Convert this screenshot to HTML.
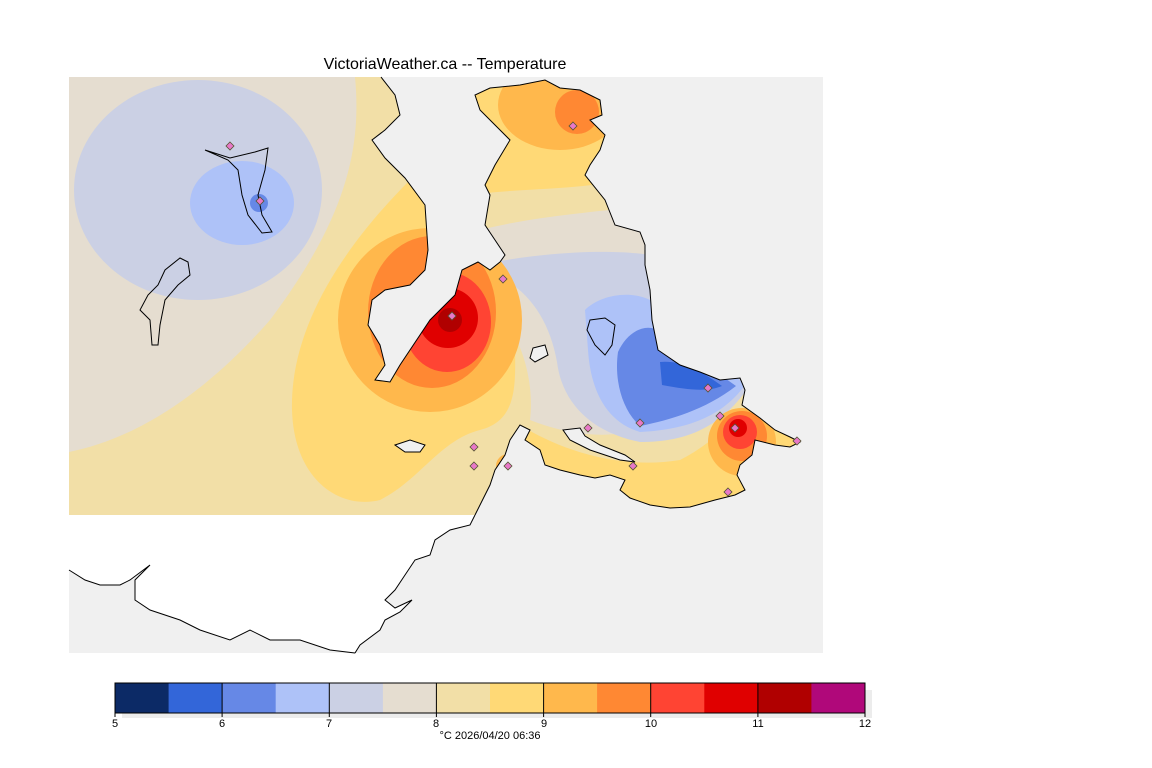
<!DOCTYPE html>
<html><head><meta charset="utf-8"><style>
html,body{margin:0;padding:0;background:#fff;width:1152px;height:768px;overflow:hidden}
svg{display:block}
text{font-family:"Liberation Sans",sans-serif;fill:#000}
</style></head><body>
<svg width="1152" height="768" viewBox="0 0 1152 768" xmlns="http://www.w3.org/2000/svg">
<defs>
<clipPath id="land"><path d="M69,77 L381,77 L395,95 L400,115 L385,130 L372,140 L385,158 L405,178 L425,205 L428,250 L425,270 L410,285 L385,290 L372,300 L368,325 L380,345 L385,365 L375,380 L390,382 L400,365 L430,320 L455,295 L462,270 L478,262 L490,270 L500,262 L505,255 L495,240 L485,225 L490,195 L485,185 L495,165 L510,140 L495,125 L480,110 L475,95 L490,88 L520,85 L545,80 L560,88 L580,90 L600,100 L602,115 L590,120 L605,135 L600,150 L590,165 L585,175 L605,200 L615,225 L640,232 L645,245 L645,265 L650,290 L652,320 L658,350 L680,365 L700,372 L720,380 L740,378 L745,390 L742,405 L760,418 L775,430 L790,437 L800,442 L790,447 L775,445 L755,440 L752,455 L740,465 L737,475 L745,490 L735,495 L715,500 L690,507 L670,508 L650,505 L630,498 L620,490 L625,480 L610,475 L595,478 L580,475 L560,470 L545,465 L540,450 L525,440 L530,430 L520,425 L510,440 L505,455 L495,470 L490,485 L475,515 L69,515 Z"/></clipPath>
</defs>
<text x="445" y="69" font-size="16" text-anchor="middle">VictoriaWeather.ca -- Temperature</text>
<rect x="69" y="77" width="754" height="576" fill="#f0f0f0"/>
<path d="M69,515 L475,515 L470,525 L450,530 L435,540 L430,555 L415,560 L405,575 L395,590 L385,600 L395,608 L412,600 L400,612 L385,620 L380,630 L360,645 L355,653 L69,653 Z" fill="#fff"/>
<path d="M69,653 L69,570 L85,580 L100,585 L120,585 L130,580 L150,565 L135,580 L135,600 L150,610 L180,620 L200,630 L230,640 L250,630 L270,640 L300,640 L330,650 L355,653 Z" fill="#f0f0f0"/>
<path d="M475,515 L470,525 L450,530 L435,540 L430,555 L415,560 L405,575 L395,590 L385,600 L395,608 L412,600 L400,612 L385,620 L380,630 L360,645 L355,653 M69,570 L85,580 L100,585 L120,585 L130,580 L150,565 L135,580 L135,600 L150,610 L180,620 L200,630 L230,640 L250,630 L270,640 L300,640 L330,650 L355,653" fill="none" stroke="#000"/>
<g clip-path="url(#land)">
<rect x="69" y="77" width="754" height="440" fill="#f2dfa7"/>
<path d="M69,77 L355,77 C362,150 345,220 270,320 C200,400 130,440 69,452 Z" fill="#e5ddd0"/>
<ellipse cx="198" cy="190" rx="124" ry="110" fill="#cbd0e4"/>
<ellipse cx="242" cy="203" rx="52" ry="42" fill="#aec2f8"/>
<circle cx="259" cy="203" r="9" fill="#6688e6"/>
<path d="M410,180 C340,250 290,330 292,410 C294,480 340,510 380,500 C420,480 440,440 480,430 C520,420 515,380 515,340 C510,300 490,280 470,270 Z" fill="#ffd976"/>
<path d="M470,77 L620,77 L620,180 C580,190 520,188 470,195 Z" fill="#ffd976"/>
<ellipse cx="560" cy="105" rx="62" ry="45" fill="#ffb84c"/>
<circle cx="577" cy="112" r="22" fill="#ff8833"/>
<path d="M480,230 C540,215 600,212 650,205 L700,380 C660,450 580,440 530,420 C535,380 520,320 480,300 Z" fill="#e5ddd0"/>
<path d="M495,262 C560,250 620,250 650,255 L752,382 C720,432 680,442 640,442 C590,432 562,402 557,362 C550,322 530,292 500,277 Z" fill="#cbd0e4"/>
<path d="M585,310 C600,295 630,290 650,300 L745,385 C720,420 680,430 640,432 C600,420 590,380 588,350 Z" fill="#aec2f8"/>
<path d="M618,352 C628,330 648,322 660,332 L736,386 C705,410 670,420 640,426 C622,410 614,380 618,352 Z" fill="#6688e6"/>
<path d="M660,362 C680,360 700,370 722,386 C708,392 688,390 662,385 Z" fill="#3366d9"/>
<path d="M520,425 C560,450 620,470 680,460 C720,440 730,415 760,415 L820,440 L820,520 L500,520 Z" fill="#ffd976"/>
<ellipse cx="430" cy="320" rx="92" ry="92" fill="#ffb84c"/>
<ellipse cx="432" cy="312" rx="64" ry="76" fill="#ff8833"/>
<ellipse cx="447" cy="322" rx="44" ry="50" fill="#ff4433"/>
<circle cx="448" cy="318" r="30" fill="#e00000"/>
<circle cx="450" cy="320" r="12" fill="#b00000"/>
<circle cx="742" cy="442" r="34" fill="#ffb84c"/>
<circle cx="742" cy="436" r="25" fill="#ff8833"/>
<circle cx="740" cy="432" r="17" fill="#ff4433"/>
<circle cx="738" cy="428" r="9" fill="#e00000"/>
<circle cx="508" cy="466" r="12" fill="#ffb84c"/>
</g>
<path d="M381,77 L395,95 L400,115 L385,130 L372,140 L385,158 L405,178 L425,205 L428,250 L425,270 L410,285 L385,290 L372,300 L368,325 L380,345 L385,365 L375,380 L390,382 L400,365 L430,320 L455,295 L462,270 L478,262 L490,270 L500,262 L505,255 L495,240 L485,225 L490,195 L485,185 L495,165 L510,140 L495,125 L480,110 L475,95 L490,88 L520,85 L545,80 L560,88 L580,90 L600,100 L602,115 L590,120 L605,135 L600,150 L590,165 L585,175 L605,200 L615,225 L640,232 L645,245 L645,265 L650,290 L652,320 L658,350 L680,365 L700,372 L720,380 L740,378 L745,390 L742,405 L760,418 L775,430 L790,437 L800,442 L790,447 L775,445 L755,440 L752,455 L740,465 L737,475 L745,490 L735,495 L715,500 L690,507 L670,508 L650,505 L630,498 L620,490 L625,480 L610,475 L595,478 L580,475 L560,470 L545,465 L540,450 L525,440 L530,430 L520,425 L510,440 L505,455 L495,470 L490,485 L475,515" fill="none" stroke="#000" stroke-width="1"/>
<path d="M395,445 L410,440 L425,445 L420,452 L405,452 Z" fill="#f0f0f0" stroke="#000"/>
<path d="M533,348 L545,345 L548,355 L535,362 L530,358 Z" fill="#f0f0f0" stroke="#000"/>
<path d="M563,430 L580,428 L585,436 L600,445 L625,455 L635,462 L620,460 L590,450 L570,440 Z" fill="#f0f0f0" stroke="#000"/>
<path d="M205,150 L230,158 L255,152 L268,148 L265,170 L258,195 L262,215 L272,232 L262,233 L248,215 L242,195 L238,170 L228,160 Z" fill="none" stroke="#000"/>
<path d="M180,258 L188,262 L190,275 L178,285 L165,300 L160,325 L158,345 L152,345 L150,320 L140,310 L148,295 L158,285 L165,270 Z" fill="none" stroke="#000"/>
<path d="M590,320 L605,318 L615,325 L612,345 L605,355 L595,345 L587,330 Z" fill="none" stroke="#000"/>
<g fill="#e878c8" stroke="#553" stroke-width="0.8">
<path d="M230,142 l4,4 l-4,4 l-4,-4z"/><path d="M573,122 l4,4 l-4,4 l-4,-4z"/><path d="M503,275 l4,4 l-4,4 l-4,-4z"/><path d="M452,312 l4,4 l-4,4 l-4,-4z"/><path d="M260,197 l4,4 l-4,4 l-4,-4z"/><path d="M708,384 l4,4 l-4,4 l-4,-4z"/><path d="M640,419 l4,4 l-4,4 l-4,-4z"/><path d="M720,412 l4,4 l-4,4 l-4,-4z"/><path d="M735,424 l4,4 l-4,4 l-4,-4z"/><path d="M588,424 l4,4 l-4,4 l-4,-4z"/><path d="M474,443 l4,4 l-4,4 l-4,-4z"/><path d="M474,462 l4,4 l-4,4 l-4,-4z"/><path d="M508,462 l4,4 l-4,4 l-4,-4z"/><path d="M728,488 l4,4 l-4,4 l-4,-4z"/><path d="M797,437 l4,4 l-4,4 l-4,-4z"/><path d="M633,462 l4,4 l-4,4 l-4,-4z"/>
</g>
<rect x="122" y="690" width="750" height="28" fill="#ececec"/>
<g stroke="none">
<rect x="115" y="683" width="54" height="30" fill="#0c2a66"/>
<rect x="168.6" y="683" width="54" height="30" fill="#3366d9"/>
<rect x="222.1" y="683" width="54" height="30" fill="#6688e6"/>
<rect x="275.7" y="683" width="54" height="30" fill="#aec2f8"/>
<rect x="329.3" y="683" width="54" height="30" fill="#cbd0e4"/>
<rect x="382.9" y="683" width="54" height="30" fill="#e5ddd0"/>
<rect x="436.4" y="683" width="54" height="30" fill="#f2dfa7"/>
<rect x="490" y="683" width="54" height="30" fill="#ffd976"/>
<rect x="543.6" y="683" width="54" height="30" fill="#ffb84c"/>
<rect x="597.1" y="683" width="54" height="30" fill="#ff8833"/>
<rect x="650.7" y="683" width="54" height="30" fill="#ff4433"/>
<rect x="704.3" y="683" width="54" height="30" fill="#e00000"/>
<rect x="757.9" y="683" width="54" height="30" fill="#b00000"/>
<rect x="811.4" y="683" width="53.6" height="30" fill="#b0087a"/>
</g>
<rect x="115" y="683" width="750" height="30" fill="none" stroke="#000"/>
<g stroke="#000">
<line x1="222.1" y1="683" x2="222.1" y2="717"/><line x1="329.3" y1="683" x2="329.3" y2="717"/><line x1="436.4" y1="683" x2="436.4" y2="717"/><line x1="543.6" y1="683" x2="543.6" y2="717"/><line x1="650.7" y1="683" x2="650.7" y2="717"/><line x1="757.9" y1="683" x2="757.9" y2="717"/><line x1="115" y1="713" x2="115" y2="717"/><line x1="865" y1="713" x2="865" y2="717"/>
</g>
<g font-size="11" text-anchor="middle">
<text x="115" y="727">5</text><text x="222" y="727">6</text><text x="329" y="727">7</text><text x="436" y="727">8</text><text x="544" y="727">9</text><text x="651" y="727">10</text><text x="758" y="727">11</text><text x="865" y="727">12</text>
<text x="490" y="739">°C  2026/04/20 06:36</text>
</g>
</svg>
</body></html>
